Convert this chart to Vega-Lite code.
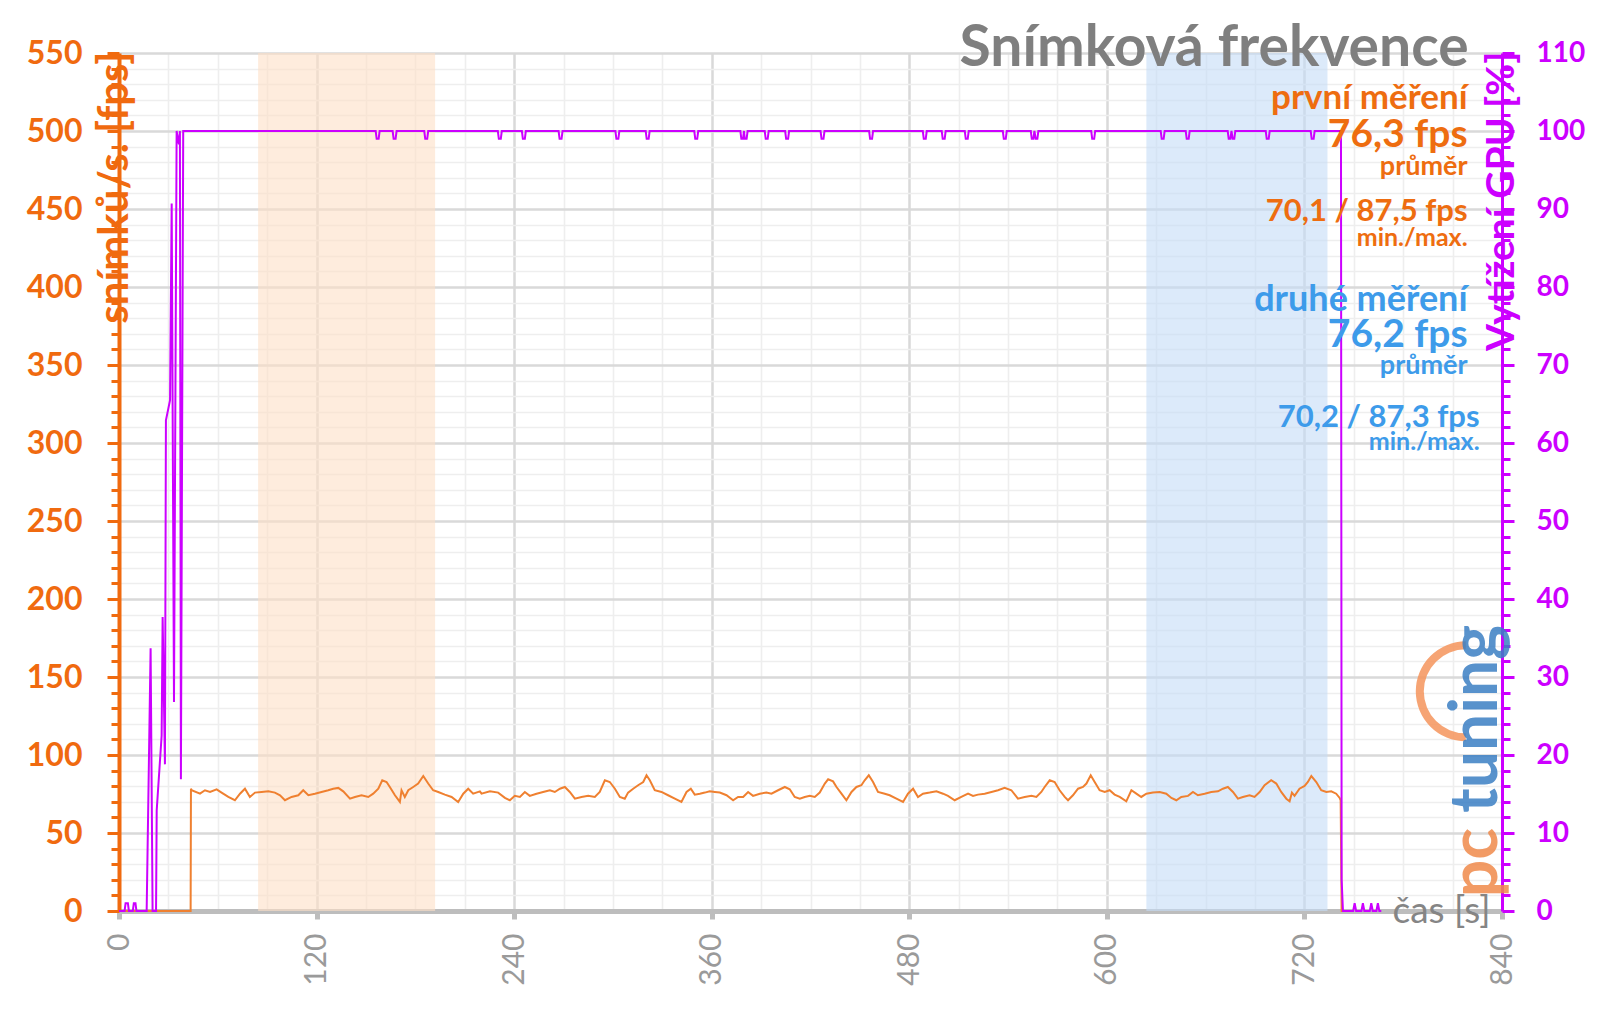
{
"$schema":"https://vega.github.io/schema/vega-lite/v6.json",
"width":1383,"height":858,
"autosize":{"type":"none"},
"padding":{"left":119,"top":53,"right":98,"bottom":98},
"background":"white",
"config":{"view":{"stroke":null}},
"datasets":{
"bands":[{"band":"první měření","start":84.5,"end":192},{"band":"druhé měření","start":624,"end":734}],
"fps":[
{"t":0,"fps":0},{"t":43.5,"fps":0},{"t":43.7,"fps":78.4},{"t":44.1,"fps":77.4},{"t":49.2,"fps":75.2},{"t":52.2,"fps":77.4},{"t":55.3,"fps":76.3},{"t":59.3,"fps":78.0},{"t":62.3,"fps":75.9},{"t":66.4,"fps":73.1},{"t":70.4,"fps":71.0},{"t":73.5,"fps":75.2},{"t":76.5,"fps":78.4},{"t":79.5,"fps":73.1},{"t":82.6,"fps":75.9},{"t":86.6,"fps":76.3},{"t":90.7,"fps":76.7},{"t":94.7,"fps":75.9},{"t":97.8,"fps":74.2},{"t":100.8,"fps":71.0},{"t":104.8,"fps":73.1},{"t":108.9,"fps":74.2},{"t":111.9,"fps":77.4},{"t":115,"fps":74.2},{"t":119,"fps":75.2},{"t":123,"fps":76.3},{"t":127.1,"fps":77.4},{"t":130.1,"fps":78.4},{"t":133.2,"fps":78.9},{"t":136.2,"fps":76.7},{"t":140.3,"fps":72.0},{"t":143.3,"fps":73.1},{"t":147.3,"fps":74.2},{"t":151.4,"fps":73.1},{"t":154.4,"fps":75.2},{"t":157.5,"fps":78.4},{"t":159.9,"fps":83.8},{"t":162.5,"fps":82.7},{"t":164.5,"fps":79.5},{"t":167.6,"fps":74.2},{"t":170.6,"fps":69.9},{"t":171.6,"fps":77.4},{"t":173.6,"fps":73.1},{"t":175.7,"fps":77.4},{"t":178.7,"fps":79.5},{"t":181.7,"fps":81.7},{"t":184.8,"fps":86.5},{"t":187.8,"fps":81.7},{"t":190.8,"fps":77.4},{"t":193.9,"fps":76.3},{"t":197.9,"fps":74.6},{"t":202,"fps":73.1},{"t":206,"fps":69.9},{"t":209.1,"fps":75.2},{"t":212.1,"fps":78.4},{"t":215.1,"fps":75.2},{"t":219.2,"fps":76.7},
{"t":220.2,"fps":75.2},{"t":225.3,"fps":76.7},{"t":230.3,"fps":75.9},{"t":234.4,"fps":72.5},{"t":237.4,"fps":71.0},{"t":240.4,"fps":73.8},{"t":243.5,"fps":73.1},{"t":246.5,"fps":76.3},{"t":249.5,"fps":73.8},{"t":253.6,"fps":75.2},{"t":257.6,"fps":76.3},{"t":261.7,"fps":77.4},{"t":264.7,"fps":76.3},{"t":267.8,"fps":78.4},{"t":270.8,"fps":79.5},{"t":273.8,"fps":76.3},{"t":276.9,"fps":72.0},{"t":280.9,"fps":73.1},{"t":285,"fps":73.8},{"t":289,"fps":73.1},{"t":292,"fps":76.3},{"t":295.1,"fps":83.8},{"t":298.1,"fps":82.7},{"t":301.2,"fps":78.4},{"t":304.2,"fps":73.1},{"t":307.2,"fps":72.0},{"t":309.2,"fps":75.9},{"t":312.3,"fps":78.4},{"t":315.3,"fps":80.6},{"t":318.4,"fps":82.7},{"t":320.4,"fps":87.0},{"t":322.4,"fps":83.8},{"t":325.4,"fps":77.4},{"t":329.5,"fps":76.3},{"t":333.5,"fps":74.2},{"t":337.6,"fps":72.0},{"t":341.6,"fps":69.9},{"t":344.7,"fps":76.3},{"t":347.3,"fps":78.4},{"t":349.7,"fps":74.6},{"t":352.8,"fps":75.2},{"t":355.8,"fps":75.9},{"t":358.8,"fps":76.7},{"t":361.9,"fps":76.3},{"t":364.9,"fps":75.9},{"t":369,"fps":74.2},{"t":373,"fps":71.0},{"t":376,"fps":73.1},{"t":379.1,"fps":73.1},{"t":382.1,"fps":76.3},{"t":385.1,"fps":73.8},{"t":389.2,"fps":75.2},{"t":393.2,"fps":75.9},
{"t":396.3,"fps":75.2},{"t":400.3,"fps":77.4},{"t":404.4,"fps":79.5},{"t":407.4,"fps":78.0},{"t":410.4,"fps":73.1},{"t":413.5,"fps":72.0},{"t":416.5,"fps":73.1},{"t":419.6,"fps":73.8},{"t":422.6,"fps":73.1},{"t":425.6,"fps":75.9},{"t":428.7,"fps":81.7},{"t":430.7,"fps":84.4},{"t":433.7,"fps":83.1},{"t":435.8,"fps":79.5},{"t":438.8,"fps":75.2},{"t":441.8,"fps":71.0},{"t":444.9,"fps":76.3},{"t":447.9,"fps":79.5},{"t":450.9,"fps":80.6},{"t":452.9,"fps":83.8},{"t":455.4,"fps":87.0},{"t":458,"fps":82.7},{"t":461,"fps":76.3},{"t":465.1,"fps":75.2},{"t":468.1,"fps":74.2},{"t":472.2,"fps":72.0},{"t":476.2,"fps":69.9},{"t":479.2,"fps":75.2},{"t":482.3,"fps":78.4},{"t":485.3,"fps":73.1},{"t":488.3,"fps":75.2},{"t":492.4,"fps":75.9},{"t":496.5,"fps":76.7},{"t":500.5,"fps":75.2},{"t":503.5,"fps":73.8},{"t":507.6,"fps":71.0},{"t":511.6,"fps":73.1},{"t":515.7,"fps":75.2},{"t":518.7,"fps":73.8},{"t":521.7,"fps":74.6},{"t":525.8,"fps":75.2},{"t":529.9,"fps":76.3},{"t":533.9,"fps":77.4},{"t":537.9,"fps":78.9},{"t":542,"fps":77.4},{"t":546,"fps":72.0},{"t":550.1,"fps":73.1},{"t":554.2,"fps":73.8},{"t":557.2,"fps":73.1},{"t":560.2,"fps":76.3},{"t":562.2,"fps":79.5},{"t":565.3,"fps":83.8},{"t":568.3,"fps":82.7},
{"t":571.3,"fps":77.4},{"t":574.4,"fps":73.1},{"t":576.4,"fps":71.0},{"t":579.4,"fps":74.2},{"t":582.5,"fps":78.4},{"t":585.5,"fps":79.5},{"t":587.6,"fps":81.7},{"t":590.2,"fps":87.0},{"t":592.6,"fps":82.7},{"t":595.6,"fps":77.4},{"t":598.7,"fps":76.3},{"t":601.7,"fps":77.4},{"t":604.7,"fps":74.6},{"t":607.8,"fps":73.1},{"t":611.8,"fps":70.3},{"t":614.9,"fps":77.4},{"t":617.9,"fps":75.2},{"t":620.9,"fps":73.1},{"t":624,"fps":75.2},{"t":628,"fps":75.9},{"t":632.1,"fps":76.3},{"t":636.1,"fps":75.2},{"t":639.2,"fps":72.5},{"t":642.2,"fps":71.0},{"t":645.2,"fps":73.1},{"t":649.3,"fps":73.8},{"t":652.3,"fps":76.3},{"t":655.3,"fps":74.2},{"t":659.4,"fps":75.2},{"t":663.4,"fps":76.3},{"t":667.5,"fps":76.7},{"t":670.5,"fps":78.4},{"t":673.5,"fps":79.5},{"t":676.6,"fps":76.3},{"t":679.6,"fps":72.0},{"t":682.6,"fps":73.1},{"t":686.7,"fps":74.2},{"t":689.7,"fps":73.1},{"t":692.8,"fps":76.3},{"t":695.8,"fps":80.6},{"t":699.8,"fps":83.8},{"t":702.9,"fps":81.7},{"t":705.9,"fps":76.3},{"t":709,"fps":72.0},{"t":711,"fps":70.3},{"t":712.4,"fps":75.9},{"t":714,"fps":73.8},{"t":717,"fps":78.4},{"t":720.1,"fps":80.2},{"t":722.1,"fps":82.7},{"t":724.2,"fps":86.5},{"t":727.2,"fps":82.7},{"t":730.2,"fps":77.4},{"t":733.3,"fps":76.3},{"t":736.3,"fps":76.7},{"t":739.3,"fps":75.2},{"t":741.4,"fps":72.5},{"t":742,"fps":71},{"t":742.6,"fps":0},{"t":744,"fps":0}
],
"gpu":[
{"t":0,"gpu":0},{"t":3.4,"gpu":0},{"t":4,"gpu":1},{"t":5.4,"gpu":1},{"t":6,"gpu":0},{"t":8.4,"gpu":0},{"t":9,"gpu":1},{"t":10,"gpu":1},{"t":10.6,"gpu":0},{"t":16.8,"gpu":0},{"t":19.2,"gpu":33.7},{"t":20.4,"gpu":0},{"t":22.5,"gpu":0},{"t":22.9,"gpu":12.9},{"t":25.9,"gpu":22.5},{"t":26.5,"gpu":37.7},{"t":27.9,"gpu":18.8},{"t":28.5,"gpu":62.9},{"t":31,"gpu":65.5},{"t":32,"gpu":90.7},{"t":33.4,"gpu":26.8},{"t":35,"gpu":100},{"t":36.4,"gpu":98.3},{"t":37,"gpu":100},{"t":37.6,"gpu":16.9},{"t":39,"gpu":100},
{"t":155.9,"gpu":100},{"t":156.5,"gpu":99},{"t":157.7,"gpu":99},{"t":158.3,"gpu":100},
{"t":166.2,"gpu":100},{"t":166.8,"gpu":99},{"t":168,"gpu":99},{"t":168.6,"gpu":100},
{"t":185.4,"gpu":100},{"t":186,"gpu":99},{"t":187.2,"gpu":99},{"t":187.8,"gpu":100},
{"t":230.1,"gpu":100},{"t":230.7,"gpu":99},{"t":231.9,"gpu":99},{"t":232.5,"gpu":100},
{"t":244.7,"gpu":100},{"t":245.3,"gpu":99},{"t":246.5,"gpu":99},{"t":247.1,"gpu":100},
{"t":267,"gpu":100},{"t":267.6,"gpu":99},{"t":268.8,"gpu":99},{"t":269.4,"gpu":100},
{"t":301.5,"gpu":100},{"t":302.1,"gpu":99},{"t":303.3,"gpu":99},{"t":303.9,"gpu":100},
{"t":319.9,"gpu":100},{"t":320.5,"gpu":99},{"t":321.7,"gpu":99},{"t":322.3,"gpu":100},
{"t":349.4,"gpu":100},{"t":350,"gpu":99},{"t":351.2,"gpu":99},{"t":351.8,"gpu":100},
{"t":377.4,"gpu":100},{"t":378,"gpu":99},{"t":379,"gpu":99},{"t":379.6,"gpu":100},{"t":380.1,"gpu":99},{"t":381.2,"gpu":99},{"t":381.8,"gpu":100},
{"t":392.2,"gpu":100},{"t":392.8,"gpu":99},{"t":394,"gpu":99},{"t":394.6,"gpu":100},
{"t":404.6,"gpu":100},{"t":405.2,"gpu":99},{"t":406.4,"gpu":99},{"t":407,"gpu":100},
{"t":426.1,"gpu":100},{"t":426.7,"gpu":99},{"t":427.9,"gpu":99},{"t":428.5,"gpu":100},
{"t":455.6,"gpu":100},{"t":456.2,"gpu":99},{"t":457.4,"gpu":99},{"t":458,"gpu":100},
{"t":488.2,"gpu":100},{"t":488.8,"gpu":99},{"t":490,"gpu":99},{"t":490.6,"gpu":100},
{"t":499.7,"gpu":100},{"t":500.3,"gpu":99},{"t":501.5,"gpu":99},{"t":502.1,"gpu":100},
{"t":513.7,"gpu":100},{"t":514.3,"gpu":99},{"t":515.5,"gpu":99},{"t":516.1,"gpu":100},
{"t":536.8,"gpu":100},{"t":537.4,"gpu":99},{"t":538.6,"gpu":99},{"t":539.2,"gpu":100},
{"t":553.8,"gpu":100},{"t":554.4,"gpu":99},{"t":555.4,"gpu":99},{"t":556,"gpu":100},{"t":556.8,"gpu":99},{"t":557.8,"gpu":99},{"t":558.4,"gpu":100},
{"t":590.5,"gpu":100},{"t":591.1,"gpu":99},{"t":592.3,"gpu":99},{"t":592.9,"gpu":100},
{"t":632.7,"gpu":100},{"t":633.3,"gpu":99},{"t":634.5,"gpu":99},{"t":635.1,"gpu":100},
{"t":647.9,"gpu":100},{"t":648.5,"gpu":99},{"t":649.7,"gpu":99},{"t":650.3,"gpu":100},
{"t":673.4,"gpu":100},{"t":674,"gpu":99},{"t":675,"gpu":99},{"t":675.7,"gpu":100},{"t":676.4,"gpu":99},{"t":677.4,"gpu":99},{"t":678,"gpu":100},
{"t":696.5,"gpu":100},{"t":697.1,"gpu":99},{"t":698.3,"gpu":99},{"t":698.9,"gpu":100},
{"t":723.8,"gpu":100},{"t":724.4,"gpu":99},{"t":725.6,"gpu":99},{"t":726.2,"gpu":100},
{"t":742.2,"gpu":100},{"t":742.6,"gpu":4},{"t":743.4,"gpu":0},{"t":749.6,"gpu":0},{"t":750.5,"gpu":1},{"t":751.4,"gpu":0},{"t":754.6,"gpu":0},{"t":755.5,"gpu":1},{"t":756.4,"gpu":0},{"t":759.7,"gpu":0},{"t":760.6,"gpu":1},{"t":761.5,"gpu":0},{"t":763.7,"gpu":0},{"t":764.6,"gpu":1},{"t":765.5,"gpu":0},{"t":766.7,"gpu":0}
]
},
"resolve":{"scale":{"y":"independent"},"axis":{"y":"independent"}},
"layer":[
{
"layer":[
{"data":{"name":"bands"},
 "mark":{"type":"rect","opacity":0.6},
 "encoding":{
  "x":{"field":"start","type":"quantitative","scale":{"domain":[0,840],"nice":false,"zero":false}},
  "x2":{"field":"end"},
  "color":{"field":"band","type":"nominal","scale":{"domain":["první měření","druhé měření"],"range":["#fde0c6","#c4dcf7"]},"legend":null}
 }},
{"data":{"name":"fps"},
 "mark":{"type":"line","color":"#ef8030","strokeWidth":2,"interpolate":"linear"},
 "encoding":{
  "x":{"field":"t","type":"quantitative","scale":{"domain":[0,840],"nice":false,"zero":false},
   "axis":{
    "values":[0,15,30,45,60,75,90,105,120,135,150,165,180,195,210,225,240,255,270,285,300,315,330,345,360,375,390,405,420,435,450,465,480,495,510,525,540,555,570,585,600,615,630,645,660,675,690,705,720,735,750,765,780,795,810,825,840],
    "labelExpr":"datum.value % 120 === 0 ? datum.label : ''",
    "labelAngle":270,"labelAlign":"right","labelBaseline":"middle",
    "labelFont":"Lato","labelFontSize":30,"labelColor":"#9a9a9a","labelPadding":14,
    "labelFlush":false,"labelOverlap":false,"labelBound":false,
    "grid":true,
    "gridColor":{"condition":{"test":"datum.value % 120 === 0","value":"#d9d9d9"},"value":"#eeeeee"},
    "gridWidth":{"condition":{"test":"datum.value % 120 === 0","value":2.5},"value":1.6},
    "tickColor":"#bdbdbd","tickWidth":5,"tickSize":8,
    "tickOpacity":{"condition":{"test":"datum.value % 120 === 0","value":1},"value":0},
    "domainColor":"#bdbdbd","domainWidth":5,
    "title":"čas [s]","titleFont":"Lato","titleFontSize":37,"titleFontWeight":"normal","titleColor":"#858585",
    "titleX":1371,"titleY":0,"titleAlign":"right","titleBaseline":"middle","titleAngle":0
   }},
  "y":{"field":"fps","type":"quantitative","scale":{"domain":[0,550],"nice":false},
   "axis":{
    "orient":"left",
    "values":[0,10,20,30,40,50,60,70,80,90,100,110,120,130,140,150,160,170,180,190,200,210,220,230,240,250,260,270,280,290,300,310,320,330,340,350,360,370,380,390,400,410,420,430,440,450,460,470,480,490,500,510,520,530,540,550],
    "labelExpr":"datum.value % 50 === 0 ? datum.label : ''",
    "labelFont":"Lato","labelFontWeight":"bold","labelFontSize":32,"labelColor":"#f06a0f","labelPadding":25,
    "labelFlush":false,"labelOverlap":false,"labelBound":false,"labelBaseline":"middle",
    "grid":true,
    "gridColor":{"condition":{"test":"datum.value % 50 === 0","value":"#d9d9d9"},"value":"#eeeeee"},
    "gridWidth":{"condition":{"test":"datum.value % 50 === 0","value":2.5},"value":1.6},
    "tickColor":"#f06a0f","tickWidth":3,
    "tickSize":{"condition":{"test":"datum.value % 50 === 0","value":12},"value":8},
    "domainColor":"#f06a0f","domainWidth":4,
    "title":"snímků/s. [fps]","titleFont":"Lato","titleFontWeight":"bold","titleFontSize":42,"titleColor":"#f06a0f",
    "titleAngle":270,"titleAlign":"right","titleBaseline":"middle","titleX":-5,"titleY":-2
   }}
 }}
]
},
{"data":{"name":"gpu"},
 "mark":{"type":"line","color":"#cc00ff","strokeWidth":2},
 "encoding":{
  "x":{"field":"t","type":"quantitative","scale":{"domain":[0,840],"nice":false,"zero":false}},
  "y":{"field":"gpu","type":"quantitative","scale":{"domain":[0,110],"nice":false},
   "axis":{
    "orient":"right",
    "values":[0,2,4,6,8,10,12,14,16,18,20,22,24,26,28,30,32,34,36,38,40,42,44,46,48,50,52,54,56,58,60,62,64,66,68,70,72,74,76,78,80,82,84,86,88,90,92,94,96,98,100,102,104,106,108,110],
    "labelExpr":"datum.value % 10 === 0 ? datum.label : ''",
    "labelFont":"Lato","labelFontWeight":"bold","labelFontSize":28,"labelColor":"#cc00ff","labelPadding":22,
    "labelFlush":false,"labelOverlap":false,"labelBound":false,"labelBaseline":"middle",
    "grid":false,
    "tickColor":"#cc00ff","tickWidth":3,
    "tickSize":{"condition":{"test":"datum.value % 10 === 0","value":12},"value":8},
    "domainColor":"#cc00ff","domainWidth":3,
    "title":"Vytížení GPU [%]","titleFont":"Lato","titleFontWeight":"bold","titleFontSize":39,"titleColor":"#cc00ff",
    "titleAngle":270,"titleAlign":"right","titleBaseline":"middle","titleX":-1,"titleY":-2
   }}
 }},
{
"data":{"values":[{}]},
"layer":[
{"mark":{"type":"arc","theta":3.1416,"theta2":6.2832,"radius":50,"radius2":42,"color":"#f4945c","opacity":0.85},
 "encoding":{"x":{"datum":818},"y":{"datum":140.8,"scale":{"domain":[0,550],"nice":false},"axis":null}}},
{"mark":{"type":"text","text":"pc","font":"Lato","fontWeight":"bold","fontSize":66,"angle":270,"align":"left","baseline":"alphabetic","color":"#f08a4b","opacity":0.85},
 "encoding":{"x":{"datum":837},"y":{"datum":8.8,"scale":{"domain":[0,550],"nice":false},"axis":null}}},
{"mark":{"type":"text","text":"tuning","font":"Lato","fontWeight":"bold","fontSize":66,"angle":270,"align":"left","baseline":"alphabetic","color":"#3b7fc4","opacity":0.85},
 "encoding":{"x":{"datum":837},"y":{"datum":63,"scale":{"domain":[0,550],"nice":false},"axis":null}}},
{"mark":{"type":"text","text":"Snímková frekvence","font":"Lato","fontWeight":"bold","fontSize":57,"align":"right","baseline":"alphabetic","color":"#7f7f7f"},
 "encoding":{"x":{"datum":819.7},"y":{"datum":541.5,"scale":{"domain":[0,550],"nice":false},"axis":null}}},
{"mark":{"type":"text","text":"první měření","font":"Lato","fontWeight":"bold","fontSize":35,"align":"right","baseline":"alphabetic","color":"#ee6d10"},
 "encoding":{"x":{"datum":819.1},"y":{"datum":513.9,"scale":{"domain":[0,550],"nice":false},"axis":null}}},
{"mark":{"type":"text","text":"76,3 fps","font":"Lato","fontWeight":"bold","fontSize":39,"align":"right","baseline":"alphabetic","color":"#ee6d10"},
 "encoding":{"x":{"datum":819.1},"y":{"datum":489.6,"scale":{"domain":[0,550],"nice":false},"axis":null}}},
{"mark":{"type":"text","text":"průměr","font":"Lato","fontWeight":"bold","fontSize":27,"align":"right","baseline":"alphabetic","color":"#ee6d10"},
 "encoding":{"x":{"datum":819.1},"y":{"datum":471.6,"scale":{"domain":[0,550],"nice":false},"axis":null}}},
{"mark":{"type":"text","text":"70,1 / 87,5 fps","font":"Lato","fontWeight":"bold","fontSize":31,"align":"right","baseline":"alphabetic","color":"#ee6d10"},
 "encoding":{"x":{"datum":819.1},"y":{"datum":442,"scale":{"domain":[0,550],"nice":false},"axis":null}}},
{"mark":{"type":"text","text":"min./max.","font":"Lato","fontWeight":"bold","fontSize":25,"align":"right","baseline":"alphabetic","color":"#ee6d10"},
 "encoding":{"x":{"datum":819.1},"y":{"datum":426,"scale":{"domain":[0,550],"nice":false},"axis":null}}},
{"mark":{"type":"text","text":"druhé měření","font":"Lato","fontWeight":"bold","fontSize":36,"align":"right","baseline":"alphabetic","color":"#3d9bea"},
 "encoding":{"x":{"datum":819.1},"y":{"datum":384.3,"scale":{"domain":[0,550],"nice":false},"axis":null}}},
{"mark":{"type":"text","text":"76,2 fps","font":"Lato","fontWeight":"bold","fontSize":39,"align":"right","baseline":"alphabetic","color":"#3d9bea"},
 "encoding":{"x":{"datum":819.1},"y":{"datum":361.4,"scale":{"domain":[0,550],"nice":false},"axis":null}}},
{"mark":{"type":"text","text":"průměr","font":"Lato","fontWeight":"bold","fontSize":27,"align":"right","baseline":"alphabetic","color":"#3d9bea"},
 "encoding":{"x":{"datum":819.1},"y":{"datum":344.5,"scale":{"domain":[0,550],"nice":false},"axis":null}}},
{"mark":{"type":"text","text":"70,2 / 87,3 fps","font":"Lato","fontWeight":"bold","fontSize":31,"align":"right","baseline":"alphabetic","color":"#3d9bea"},
 "encoding":{"x":{"datum":826.4},"y":{"datum":310.5,"scale":{"domain":[0,550],"nice":false},"axis":null}}},
{"mark":{"type":"text","text":"min./max.","font":"Lato","fontWeight":"bold","fontSize":25,"align":"right","baseline":"alphabetic","color":"#3d9bea"},
 "encoding":{"x":{"datum":826.4},"y":{"datum":295.8,"scale":{"domain":[0,550],"nice":false},"axis":null}}}
]
}
]
}
